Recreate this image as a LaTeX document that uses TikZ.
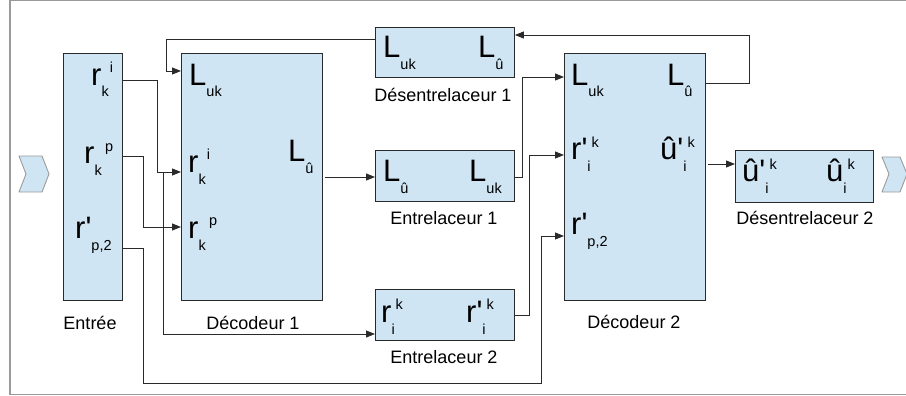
\documentclass[tikz,border=0pt]{standalone}
\usepackage{fontspec}
\setmainfont{Liberation Sans}
\newfontfamily\symfont{Liberation Sans}[Ligatures=TeXOff]
\usetikzlibrary{arrows.meta}
\definecolor{boxfill}{HTML}{CFE5F3}
\definecolor{boxline}{HTML}{2A2A2A}
\definecolor{frameline}{HTML}{9A9A9A}
% symbol with subscript and superscript set after it
\newcommand\Sy[3]{{\symfont\fontsize{31}{31}\selectfont #1}{\symfont\fontsize{14.5}{14.5}\selectfont\raisebox{-12pt}{#2}\kern1pt\raisebox{13pt}{#3}}}
\tikzset{
  blk/.style={draw=boxline, fill=boxfill, line width=0.9pt, inner sep=0pt, anchor=north west},
  sym/.style={anchor=base west, inner sep=0pt, text=black},
  lbl/.style={anchor=base, inner sep=0pt, font=\fontsize{18}{18}\selectfont, text=black},
  arr/.style={draw=boxline, line width=0.9pt, -{Triangle[length=9pt,width=7pt]}},
  chev/.style={draw=frameline, fill=boxfill, line width=0.9pt, line join=round},
}
\begin{document}
\begin{tikzpicture}[x=1pt, y=-1pt]
\useasboundingbox (0,0) rectangle (906,396);
\clip (0,0) rectangle (906,396);
% outer frame
\draw[frameline, line width=1.2pt] (10,0.6) rectangle (940,394.6);
% input and output chevrons
\draw[chev] (19,156) -- (42,156) -- (49,174) -- (42,192) -- (19,192) -- (26,174) -- cycle;
\draw[chev] (882,157) -- (900,157) -- (907,174) -- (900,192) -- (882,192) -- (889,174) -- cycle;
% blocks
\node[blk, minimum width=59pt,  minimum height=247pt] (entree) at (63,53) {};
\node[blk, minimum width=141pt, minimum height=247pt] (dec1)   at (181,53) {};
\node[blk, minimum width=139pt, minimum height=50pt]  (dein1)  at (375,27) {};
\node[blk, minimum width=139pt, minimum height=51pt]  (ent1)   at (375,150) {};
\node[blk, minimum width=139pt, minimum height=51pt]  (ent2)   at (375,289) {};
\node[blk, minimum width=141pt, minimum height=247pt] (dec2)   at (564,53) {};
\node[blk, minimum width=138pt, minimum height=52pt]  (dein2)  at (735,150) {};
% block captions
\node[lbl] (tentree) at (90,329)  {Entrée};
\node[lbl] (tdec1)   at (253,329) {Décodeur 1};
\node[lbl] (tdein1)  at (443,102) {Désentrelaceur 1};
\node[lbl] (tent1)   at (444,224) {Entrelaceur 1};
\node[lbl] (tent2)   at (444,363) {Entrelaceur 2};
\node[lbl] (tdec2)   at (634,328) {Décodeur 2};
\node[lbl] (tdein2)  at (805,224) {Désentrelaceur 2};
% symbols inside the blocks
\node[sym] (e1) at (91,85)   {\Sy{r}{k}{i}};
\node[sym] (e2) at (84,164)  {\Sy{r}{k}{\,p}};
\node[sym] (e3) at (75,238)  {\Sy{r'}{p,2}{}};
\node[sym] (d11) at (189,85)  {\Sy{L}{uk}{}};
\node[sym] (d12) at (188,172) {\Sy{r}{k}{i}};
\node[sym] (d13) at (288,161) {\Sy{L}{û}{}};
\node[sym] (d14) at (188,238) {\Sy{r}{k}{\,p}};
\node[sym] (i11) at (383,58)  {\Sy{L}{uk}{}};
\node[sym] (i12) at (478,58)  {\Sy{L}{û}{}};
\node[sym] (n11) at (383,182) {\Sy{L}{û}{}};
\node[sym] (n12) at (469,182) {\Sy{L}{uk}{}};
\node[sym] (n21) at (381,322) {\Sy{r}{i}{k}};
\node[sym] (n22) at (466,322) {\Sy{r'}{i}{k}};
\node[sym] (d21) at (571,85)  {\Sy{L}{uk}{}};
\node[sym] (d22) at (667,85)  {\Sy{L}{û}{}};
\node[sym] (d23) at (571,160) {\Sy{r'}{i}{k}};
\node[sym] (d24) at (660,160) {\Sy{û'}{i}{k}};
\node[sym] (d25) at (571,234) {\Sy{r'}{p,2}{}};
\node[sym] (i21) at (742,182) {\Sy{û'}{i}{k}};
\node[sym] (i22) at (826,182) {\Sy{û}{i}{k}};
% connectors
\draw[arr] (entree.east |- 0,80) -- (157,80) |- (dec1.west |- 0,172);
\draw[arr] (163,172) |- (ent2.west |- 0,334);
\draw[arr] (entree.east |- 0,156) -- (143,156) |- (dec1.west |- 0,227);
\draw[arr] (entree.east |- 0,248) -- (143,248) -- (143,383) -- (541,383) |- (dec2.west |- 0,236);
\draw[arr] (dein1.west |- 0,39) -- (166,39) |- (dec1.west |- 0,71);
\draw[arr] (325,177) -- (ent1.west |- 0,177);
\draw[arr] (ent1.east |- 0,177) -- (522,177) |- (dec2.west |- 0,77);
\draw[arr] (ent2.east |- 0,315) -- (529,315) |- (dec2.west |- 0,155);
\draw[arr] (dec2.east |- 0,83) -- (749,83) |- (dein1.east |- 0,35);
\draw[arr] (708,164) -- (dein2.west |- 0,164);
\end{tikzpicture}
\end{document}
